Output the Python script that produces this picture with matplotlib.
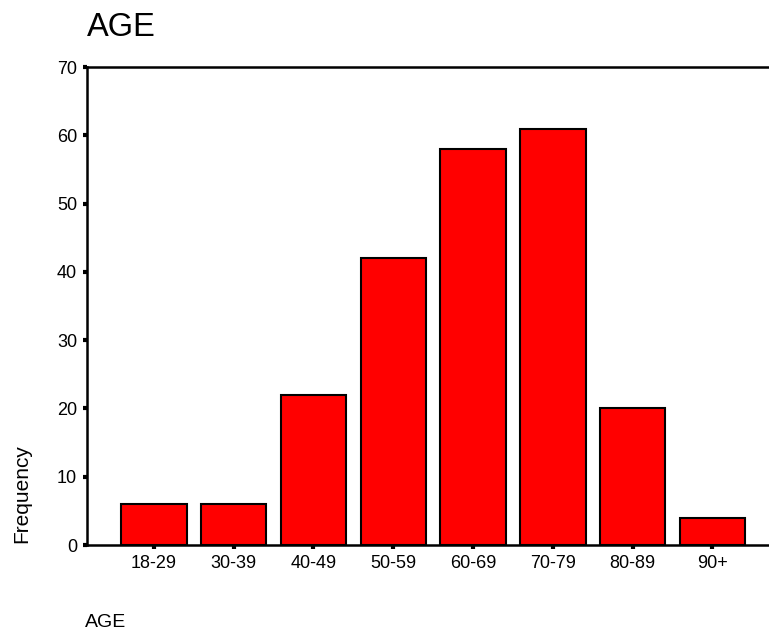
import matplotlib.pyplot as plt
import numpy as np

# ── Data ───────────────────────────────────────────────────────────────────
age_groups = ["18-29", "30-39", "40-49", "50-59", "60-69", "70-79", "80-89", "90+"]
frequency = [6, 6, 22, 42, 58, 61, 20, 4]
y_ticks = [0, 10, 20, 30, 40, 50, 60, 70]

plt.rcParams["font.family"] = ["Liberation Sans", "DejaVu Sans"]

# ── Plot ───────────────────────────────────────────────────────────────────
fig = plt.figure(figsize=(7.69, 6.33), dpi=100)
ax = fig.add_axes([0.113, 0.139, 0.887, 0.755])

x = np.arange(len(age_groups))
ax.bar(x, frequency, width=0.82, color="#ff0000", edgecolor="black", linewidth=1.5)

ax.set_xlim(-0.84, 7.71)
ax.set_ylim(0, 70)
ax.set_xticks(x)
ax.set_xticklabels(age_groups, fontsize=13)
ax.set_yticks(y_ticks)
ax.set_yticklabels([str(v) for v in y_ticks], fontsize=13)
ax.tick_params(axis="both", direction="out", length=3, width=3, pad=4)

for side in ["left", "bottom", "top"]:
    ax.spines[side].set_linewidth(1.8)
ax.spines["right"].set_visible(False)

fig.text(0.113, 0.956, "AGE", fontsize=23.5, ha="left", va="center")
fig.text(0.111, 0.017, "AGE", fontsize=14, ha="left", va="center")
fig.text(0.028, 0.142, "Frequency", fontsize=15, rotation=90, ha="center", va="bottom")

plt.savefig("out.png", dpi=100)
